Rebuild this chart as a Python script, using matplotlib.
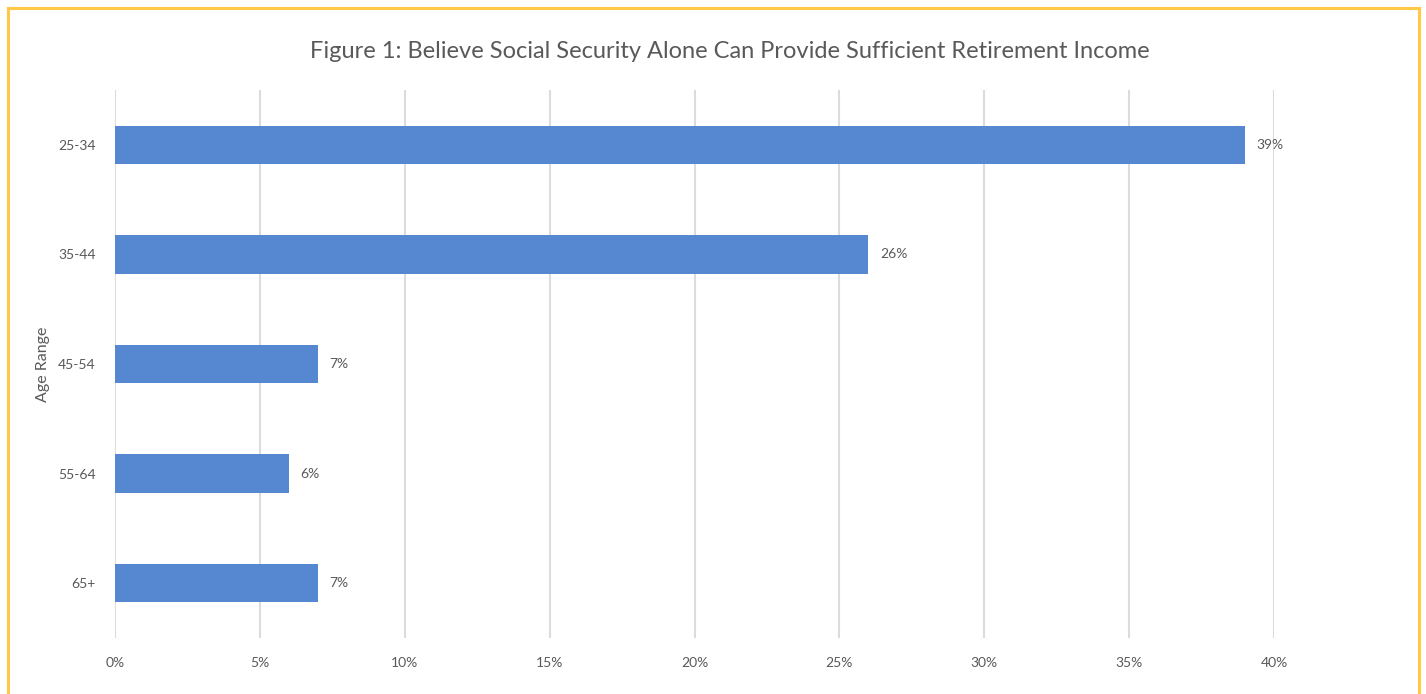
import matplotlib
matplotlib.use("Agg")
import matplotlib.pyplot as plt
from matplotlib.lines import Line2D

ages = ["25-34", "35-44", "45-54", "55-64", "65+"]
shares = [0.39, 0.26, 0.07, 0.06, 0.07]
labels = ["39%", "26%", "7%", "6%", "7%"]

plt.rcParams["font.family"] = ["Lato", "DejaVu Sans"]
grey = "#595959"

W, H = 1426, 694
fig = plt.figure(figsize=(W / 100, H / 100), dpi=100)
ax = fig.add_axes([115 / W, 56 / H, (1274 - 115) / W, (638 - 90) / H])

ypos = list(range(len(ages)))
ax.barh(ypos, shares, height=0.35, color="#5588D1", zorder=3)
for y, v, t in zip(ypos, shares, labels):
    ax.text(v + 0.004, y, t, va="center", ha="left", fontsize=10, color=grey)

ax.set_xlim(0, 0.40)
ax.set_ylim(len(ages) - 0.5, -0.5)
ax.set_yticks(ypos)
ax.set_yticklabels(ages)
ax.set_xticks([i * 0.05 for i in range(9)])
ax.set_xticklabels([f"{i * 5}%" for i in range(9)])
ax.tick_params(length=0, labelsize=10, colors=grey)
ax.tick_params(axis="x", pad=14)
ax.tick_params(axis="y", pad=14)
ax.grid(axis="x", color="#DCDCDC", linewidth=1.5, zorder=0)
for s in ax.spines.values():
    s.set_visible(False)
ax.set_ylabel("Age Range", fontsize=11.5, color=grey, labelpad=6)

fig.text(730 / W, 1 - 51 / H, "Figure 1: Believe Social Security Alone Can Provide Sufficient Retirement Income",
         ha="center", va="center", fontsize=17, color=grey)

# yellow frame
bc = "#FFC845"
fig.add_artist(Line2D([8 / W, 8 / W], [0, 1 - 8 / H], color=bc, linewidth=2.2, transform=fig.transFigure))
fig.add_artist(Line2D([8 / W, 1419 / W], [1 - 8 / H, 1 - 8 / H], color=bc, linewidth=2.2, transform=fig.transFigure))
fig.add_artist(Line2D([1419 / W, 1419 / W], [0, 1 - 8 / H], color=bc, linewidth=2.2, transform=fig.transFigure))

fig.savefig("out.png", dpi=100)
